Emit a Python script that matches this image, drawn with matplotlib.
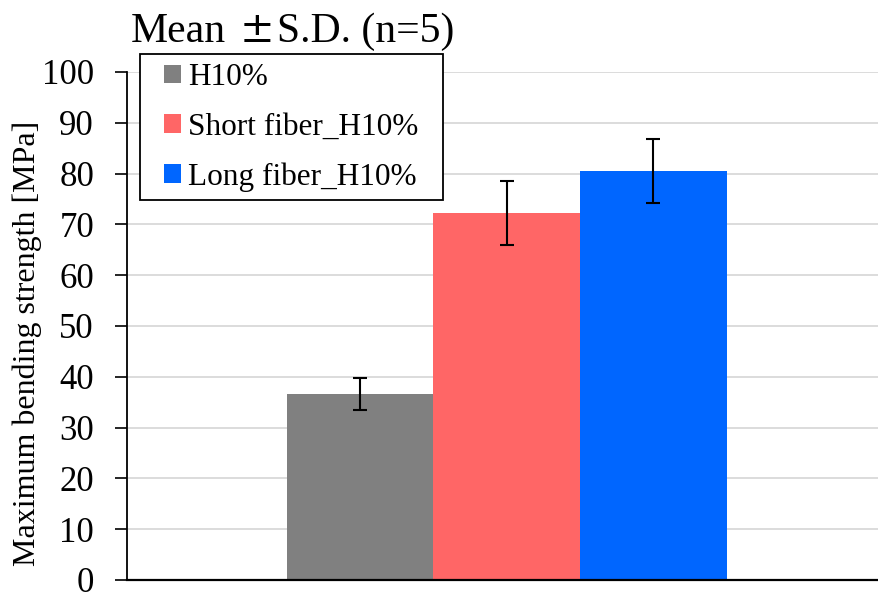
import matplotlib
matplotlib.use("Agg")
import matplotlib.pyplot as plt
from matplotlib.patches import Patch, Rectangle

# Bending test results
groups = ["H10%", "Short fiber_H10%", "Long fiber_H10%"]
means = [36.7, 72.3, 80.6]
sds = [3.15, 6.3, 6.3]
colors = ["#808080", "#FF6666", "#0066FF"]
yticks = [0, 10, 20, 30, 40, 50, 60, 70, 80, 90, 100]

plt.rcParams["font.family"] = ["Liberation Serif", "DejaVu Serif"]

W, H = 879, 597
fig = plt.figure(figsize=(W / 100, H / 100), dpi=100)
ax = fig.add_axes([126.7 / W, 17 / H, 1 - 126.7 / W, 508 / H])

w = 0.195
positions = [-w, 0.0, w]
for x, m, s, c in zip(positions, means, sds, colors):
    ax.bar(x, m, width=w, color=c, zorder=2)
    ax.errorbar(x, m, yerr=s, fmt="none", ecolor="black", elinewidth=1.5,
                capsize=5, capthick=1.5, zorder=3)

ax.set_xlim(-0.505, 0.495)
ax.set_ylim(0, 100)
ax.set_yticks(yticks)
ax.set_xticks([])
ax.tick_params(axis="y", labelsize=25, length=8.5, width=1.2, direction="out",
               pad=15)
ax.yaxis.grid(True, color="#D9D9D9", linewidth=1.3, zorder=0)
ax.set_axisbelow(True)
for side in ["top", "right"]:
    ax.spines[side].set_visible(False)
ax.spines["left"].set_linewidth(1.3)
ax.spines["bottom"].set_linewidth(1.6)

fig.text(27 / W, 1 - 343 / H, "Maximum bending strength [MPa]", rotation=90,
         ha="center", va="center", fontsize=23)

# Title in three pieces so the wide plus-minus sign sits as in the layout
fig.text(131 / W, 1 - 42 / H, "Mean", fontsize=30, ha="left", va="baseline")
fig.text(257 / W, 1 - 42 / H, "\u00b1", fontsize=30, ha="center",
         va="baseline", family="DejaVu Serif")
fig.text(277 / W, 1 - 42 / H, "S.D. (n=5)", fontsize=30, ha="left",
         va="baseline")

# Legend with a square-cornered frame
fig.patches.append(Rectangle((140 / W, 1 - 200 / H), 303 / W, 146 / H,
                             transform=fig.transFigure, facecolor="white",
                             edgecolor="black", linewidth=1.3, zorder=4))
handles = [Patch(facecolor=c, edgecolor="none") for c in colors]
leg = fig.legend(handles, groups, loc="upper left",
                 bbox_to_anchor=(164 / W, 1 - 63 / H),
                 fontsize=22.5, frameon=False, borderpad=0,
                 labelspacing=0.66, handlelength=0.55, handleheight=0.55,
                 handletextpad=0.22, borderaxespad=0)
leg.set_zorder(5)

fig.savefig("out.png", dpi=100)
